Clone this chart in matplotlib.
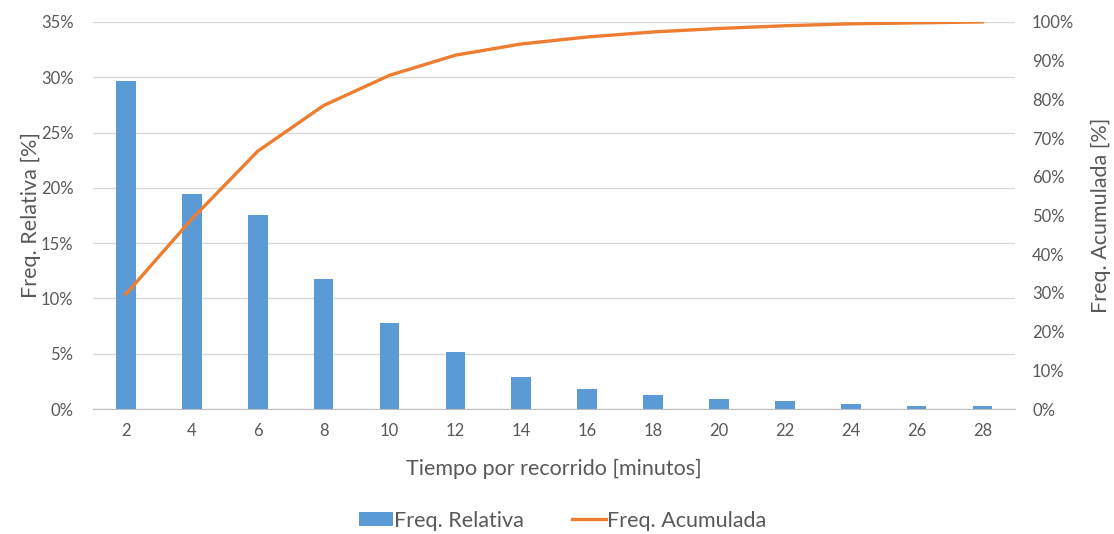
import matplotlib.pyplot as plt
from matplotlib.ticker import FuncFormatter, MultipleLocator

plt.rcParams['font.family'] = ['Lato', 'DejaVu Sans']

tiempos = ['2', '4', '6', '8', '10', '12', '14', '16', '18', '20', '22', '24', '26', '28']
freq_relativa = [29.7, 19.4, 17.5, 11.8, 7.8, 5.2, 2.9, 1.8, 1.3, 0.9, 0.7, 0.5, 0.25, 0.25]
freq_acumulada = [29.7, 49.1, 66.6, 78.4, 86.2, 91.4, 94.3, 96.1, 97.4, 98.3, 99.0, 99.5, 99.75, 100.0]

azul = '#5B9BD5'
naranja = '#ED7D31'
gris = '#595959'

fig = plt.figure(figsize=(11.14, 5.34), dpi=100)
ax = fig.add_axes([0.0835, 0.234, 0.828, 0.725])
ax2 = ax.twinx()

x = range(len(tiempos))
barras = ax.bar(x, freq_relativa, width=0.3, color=azul, zorder=2, label='Freq. Relativa')
linea, = ax2.plot(x, freq_acumulada, color=naranja, lw=2.4, label='Freq. Acumulada', zorder=3)

ax.set_xlim(-0.5, len(tiempos) - 0.5)
ax.set_ylim(0, 35)
ax2.set_ylim(0, 100)
ax.yaxis.set_major_locator(MultipleLocator(5))
ax2.yaxis.set_major_locator(MultipleLocator(10))
pct = FuncFormatter(lambda v, _: f'{v:.0f}%')
ax.yaxis.set_major_formatter(pct)
ax2.yaxis.set_major_formatter(pct)

ax.set_xticks(list(x))
ax.set_xticklabels(tiempos)
ax.grid(axis='y', color='#D9D9D9', lw=1, zorder=0)
ax.set_axisbelow(True)

for a in (ax, ax2):
    for s in a.spines.values():
        s.set_visible(False)
    a.tick_params(length=0, labelsize=12, colors=gris)
ax.spines['bottom'].set_visible(True)
ax.spines['bottom'].set_color('#BFBFBF')
ax.tick_params(axis='x', pad=10)
ax.tick_params(axis='y', pad=14)
ax2.tick_params(axis='y', pad=12)

ax.set_xlabel('Tiempo por recorrido [minutos]', fontsize=15.5, color=gris, labelpad=14)
ax.set_ylabel('Freq. Relativa [%]', fontsize=15.5, color=gris, labelpad=0)
ax2.set_ylabel('Freq. Acumulada [%]', fontsize=15.5, color=gris, labelpad=12)

fig.legend([barras, linea], ['Freq. Relativa', 'Freq. Acumulada'], loc='center',
           bbox_to_anchor=(0.505, 0.025), ncol=2, frameon=False, fontsize=15.5,
           labelcolor=gris, handlelength=1.6, handleheight=0.6, handletextpad=0.05,
           columnspacing=2.2)

fig.savefig('out.png', dpi=100)
